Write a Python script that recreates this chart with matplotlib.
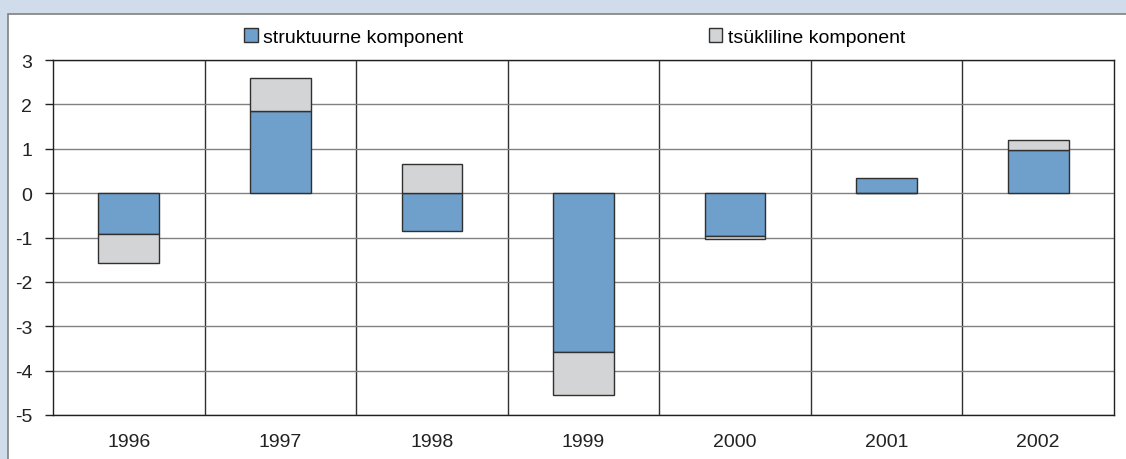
import numpy as np
import matplotlib.pyplot as plt
from matplotlib.patches import Rectangle

plt.rcParams['font.family'] = ['Liberation Sans', 'DejaVu Sans']

# Data
years = ['1996', '1997', '1998', '1999', '2000', '2001', '2002']
struct = [-0.93, 1.84, -0.86, -3.59, -0.96, 0.33, 0.97]
cycl = [-0.65, 0.76, 0.65, -0.97, -0.08, 0.0, 0.22]
labels = ['struktuurne komponent', 'tsükliline komponent']

blue = '#6f9fcb'
grey = '#d3d4d6'
edge = '#303030'

fig = plt.figure(figsize=(11.26, 4.6), dpi=100)
fig.patch.set_facecolor('#d0dcea')
# white panel with grey border
fig.patches.append(Rectangle((8 / 1126, -0.05), 1.2, (460 - 15) / 460 + 0.05,
                             transform=fig.transFigure, facecolor='white',
                             edgecolor='#808080', linewidth=1.2, zorder=-5))

ax = fig.add_axes([53 / 1126, 1 - 416 / 460, (1114 - 53) / 1126, (416 - 61) / 460])
ax.set_facecolor('white')
ax.set_zorder(2)

x = np.arange(len(years))
struct = np.array(struct)
cycl = np.array(cycl)
# grey stacks onto blue if same sign, otherwise starts at zero
bottom = np.where(np.sign(cycl) == np.sign(struct), struct, 0)

ax.bar(x, struct, width=0.4, color=blue, edgecolor=edge, linewidth=1, label=labels[0], zorder=3)
ax.bar(x, cycl, width=0.4, bottom=bottom, color=grey, edgecolor=edge, linewidth=1, label=labels[1], zorder=3)

ax.set_xlim(-0.5, len(years) - 0.5)
ax.set_ylim(-5, 3)
ax.set_yticks(range(-5, 4))
ax.set_yticklabels([str(v) for v in range(-5, 4)])
ax.yaxis.grid(True, color='#808080', linewidth=1, zorder=1)
for b in np.arange(0.5, len(years) - 1, 1):
    ax.axvline(b, color='#303030', linewidth=1, zorder=1)

ax.set_xticks(x)
ax.set_xticklabels(years)
ax.tick_params(axis='x', length=0, pad=13, labelsize=14, colors='#222222')
ax.tick_params(axis='y', length=6, width=1, pad=9, labelsize=14, colors='#222222')
for s in ax.spines.values():
    s.set_color('#202020')
    s.set_linewidth(1)

fig.legend(loc='center left', bbox_to_anchor=(244 / 1126, 1 - 38 / 460), ncol=2,
           frameon=False, fontsize=14, handlelength=0.7, handleheight=0.7,
           handletextpad=0.3, columnspacing=12.6, borderaxespad=0, borderpad=0)

fig.savefig('out.png', dpi=100, facecolor=fig.get_facecolor())
